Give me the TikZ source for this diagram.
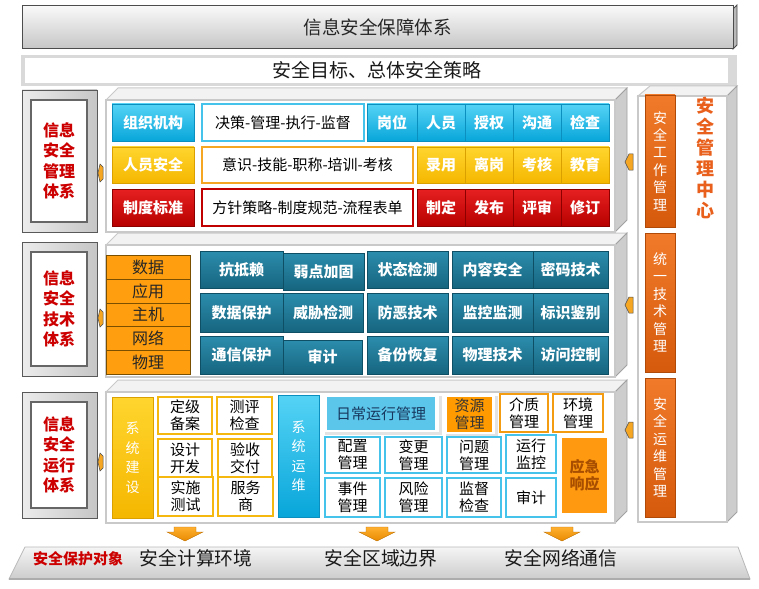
\documentclass[tikz,border=0pt]{standalone}
\usepackage{fontspec}
\setmainfont{Noto Sans CJK SC}
\definecolor{cyT}{HTML}{55D3F5}\definecolor{cyB}{HTML}{08A6DA}\definecolor{cyD}{HTML}{0A8FBF}
\definecolor{yeT}{HTML}{FFD52E}\definecolor{yeB}{HTML}{F5B700}\definecolor{yeD}{HTML}{D9A000}
\definecolor{reT}{HTML}{E62020}\definecolor{reB}{HTML}{B80000}\definecolor{reD}{HTML}{8C0000}
\definecolor{teT}{HTML}{2C8DAD}\definecolor{teB}{HTML}{16657F}\definecolor{teD}{HTML}{0F4F66}
\definecolor{orC}{HTML}{FF9F0F}\definecolor{orD}{HTML}{7A5000}
\definecolor{obT}{HTML}{F07A2A}\definecolor{obB}{HTML}{D65A0C}\definecolor{obD}{HTML}{B04A08}
\definecolor{bCy}{HTML}{45C3EA}\definecolor{bOr}{HTML}{F5A623}\definecolor{bRe}{HTML}{C00000}
\definecolor{bGo}{HTML}{F5B80F}\definecolor{bOr2}{HTML}{F39C12}
\definecolor{dayB}{HTML}{5CC6EA}\definecolor{navy}{HTML}{17375E}
\definecolor{resO}{HTML}{FF9A00}\definecolor{emO}{HTML}{FF9A10}\definecolor{emT}{HTML}{A84E00}
\definecolor{pnB}{HTML}{C9C9C9}\definecolor{pnTop}{HTML}{F2F2F2}\definecolor{pnR}{HTML}{CDCDCD}
\definecolor{ctrO}{HTML}{E8601C}\definecolor{arT}{HTML}{FFB030}\definecolor{arB}{HTML}{E88A00}
\definecolor{labR}{HTML}{CC0000}
\newcommand{\mybox}[7]{%
  \pgfmathsetmacro{\mbcx}{(#3+#5)/2}%
  \pgfmathsetmacro{\mbcy}{(#4+#6)/2}%
  \pgfmathsetmacro{\mbw}{#5-#3}%
  \pgfmathsetmacro{\mbh}{#6-#4}%
  \node[minimum width=\mbw pt, minimum height=\mbh pt, #1] (#2) at (\mbcx,\mbcy) {#7};}
\newcommand{\panelthree}[4]{% x1 y1 x2 y2 (front face)
  \filldraw[fill=pnTop, draw=pnB, line width=1pt] (#1,#2) -- (#1+12,#2-12) -- (#3+12,#2-12) -- (#3,#2) -- cycle;
  \filldraw[fill=pnR, draw=pnB!80!black, line width=0.8pt] (#3,#2) -- (#3+12,#2-12) -- (#3+12,#4-12) -- (#3,#4) -- cycle;
  \filldraw[fill=white, draw=pnB, line width=2.5pt] (#1,#2) rectangle (#3,#4);}
\newcommand{\lconn}[2]{\filldraw[fill=bOr, draw=black!70, line width=0.5pt] (#1-2,#2) -- (#1,#2-9) -- (#1+3,#2-6) -- (#1+3,#2+6) -- (#1,#2+9) -- cycle;}
\newcommand{\rconn}[2]{\filldraw[fill=bOr, draw=black!70, line width=0.5pt] (#1,#2) -- (#1+4,#2-8) -- (#1+8,#2-8) -- (#1+8,#2+8) -- (#1+4,#2+8) -- cycle;}
\newcommand{\darr}[1]{\path[top color=arT, bottom color=arB, draw=arB!80!black, line width=0.4pt] (#1-11,527) -- (#1+11,527) -- (#1+11,532) -- (#1+18,532) -- (#1,541) -- (#1-18,532) -- (#1-11,532) -- cycle;}
\begin{document}
\begin{tikzpicture}[x=1pt,y=-1pt,
  every node/.style={align=center, inner sep=0pt, outer sep=0pt},
  fb/.style={font=\fontsize{15}{17}\selectfont\bfseries},
  fr/.style={font=\fontsize{15}{17}\selectfont},
  cyanbtn/.style={top color=cyT, bottom color=cyB, draw=cyD, line width=0.6pt, text=white, fb},
  yelbtn/.style={top color=yeT, bottom color=yeB, draw=yeD, line width=0.6pt, text=white, fb},
  redbtn/.style={top color=reT, bottom color=reB, draw=reD, line width=0.6pt, text=white, fb},
  tealbtn/.style={top color=teT, bottom color=teB, draw=teD, line width=0.7pt, text=white, fb},
  wcy/.style={fill=white, draw=bCy, line width=1.8pt, text=black, fr},
  wor/.style={fill=white, draw=bOr, line width=1.8pt, text=black, fr},
  wre/.style={fill=white, draw=bRe, line width=1.8pt, text=black, fr},
  wgo/.style={fill=white, draw=bGo, line width=1.8pt, text=black, fr},
  wor2/.style={fill=white, draw=bOr2, line width=1.8pt, text=black, fr},
  orcell/.style={fill=orC, draw=orD, line width=0.8pt, text=black!85, font=\fontsize{16}{18}\selectfont},
  vtext/.style={font=\fontsize{14}{19.5}\selectfont},
  obar/.style={top color=obT, bottom color=obB, draw=obD, line width=0.6pt, text=white, font=\fontsize{14}{17.4}\selectfont},
  labout/.style={left color=gray!15, right color=gray!45, draw=black!65, line width=0.8pt},
  labin/.style={fill=white, draw=black!60, line width=1.2pt, text=labR, font=\fontsize{16}{20.5}\selectfont\bfseries},
  bottxt/.style={text=black!90, font=\fontsize{18.8}{20}\selectfont}
]
\useasboundingbox (0,0) rectangle (759,588);
\fill[white] (0,0) rectangle (759,588);

% ---------- top banner ----------
\filldraw[fill=gray!55, draw=black!70, line width=0.8pt] (733,9) -- (737,5) -- (737,45) -- (733,49) -- cycle;
\mybox{top color=gray!5, bottom color=gray!45, draw=black!70, line width=1pt, text=black!85, font=\fontsize{18.5}{20}\selectfont}{banner}{22}{6}{733}{49}{信息安全保障体系}

% ---------- goals bar ----------
\fill[gray!30] (21,55) rectangle (737,86);
\mybox{fill=white, text=black!90, font=\fontsize{19}{20}\selectfont}{goal}{25}{58}{728}{83}{安全目标、总体安全策略}

% ---------- panels ----------
\panelthree{106}{100}{615}{232}
\panelthree{106}{245}{615}{377}
\panelthree{106}{392}{615}{523}

% right column panel
\filldraw[fill=pnTop, draw=pnB, line width=1pt] (638,96) -- (650,86) -- (737,86) -- (727,96) -- cycle;
\filldraw[fill=pnR, draw=pnB!80!black, line width=0.8pt] (727,96) -- (737,86) -- (737,512) -- (727,522) -- cycle;
\filldraw[fill=white, draw=pnB, line width=2.5pt] (638,96) rectangle (727,522);

% ---------- left labels ----------
\mybox{labout}{lab1o}{22}{90}{97}{232}{}
\mybox{labin}{lab1}{31}{100}{87}{222}{信息\\安全\\管理\\体系}
\mybox{labout}{lab2o}{22}{242}{97}{376}{}
\mybox{labin}{lab2}{31}{252}{87}{366}{信息\\安全\\技术\\体系}
\mybox{labout}{lab3o}{22}{392}{97}{518}{}
\mybox{labin}{lab3}{31}{402}{87}{508}{信息\\安全\\运行\\体系}

% ---------- management ----------
\mybox{cyanbtn}{m11}{112}{104}{194}{141}{组织机构}
\mybox{wcy}{m12}{202}{104}{364}{141}{决策-管理-执行-监督}
\mybox{cyanbtn}{m13}{367}{104}{417}{141}{岗位}
\mybox{cyanbtn}{m14}{417}{104}{465}{141}{人员}
\mybox{cyanbtn}{m15}{465}{104}{513}{141}{授权}
\mybox{cyanbtn}{m16}{513}{104}{561}{141}{沟通}
\mybox{cyanbtn}{m17}{561}{104}{609}{141}{检查}

\mybox{yelbtn}{m21}{112}{147}{194}{183}{人员安全}
\mybox{wor}{m22}{202}{147}{413}{183}{意识-技能-职称-培训-考核}
\mybox{yelbtn}{m23}{417}{147}{465}{183}{录用}
\mybox{yelbtn}{m24}{465}{147}{513}{183}{离岗}
\mybox{yelbtn}{m25}{513}{147}{561}{183}{考核}
\mybox{yelbtn}{m26}{561}{147}{609}{183}{教育}

\mybox{redbtn}{m31}{112}{189}{194}{226}{制度标准}
\mybox{wre}{m32}{202}{189}{413}{226}{方针策略-制度规范-流程表单}
\mybox{redbtn}{m33}{417}{189}{465}{226}{制定}
\mybox{redbtn}{m34}{465}{189}{513}{226}{发布}
\mybox{redbtn}{m35}{513}{189}{561}{226}{评审}
\mybox{redbtn}{m36}{561}{189}{609}{226}{修订}

% ---------- technology ----------
\mybox{orcell}{t01}{106}{255}{190}{279}{数据}
\mybox{orcell}{t02}{106}{279}{190}{303}{应用}
\mybox{orcell}{t03}{106}{303}{190}{326}{主机}
\mybox{orcell}{t04}{106}{326}{190}{350}{网络}
\mybox{orcell}{t05}{106}{350}{190}{374}{物理}

\mybox{tealbtn}{t11}{200}{251}{283}{288}{抗抵赖}
\mybox{tealbtn}{t12}{283}{253}{364}{290}{弱点加固}
\mybox{tealbtn}{t13}{367}{251}{448}{288}{状态检测}
\mybox{tealbtn}{t14}{452}{251}{533}{288}{内容安全}
\mybox{tealbtn}{t15}{533}{251}{608}{288}{密码技术}

\mybox{tealbtn}{t21}{200}{293}{283}{332}{数据保护}
\mybox{tealbtn}{t22}{283}{293}{363}{332}{威胁检测}
\mybox{tealbtn}{t23}{367}{293}{448}{332}{防恶技术}
\mybox{tealbtn}{t24}{452}{293}{533}{332}{监控监测}
\mybox{tealbtn}{t25}{533}{293}{608}{332}{标识鉴别}

\mybox{tealbtn}{t31}{200}{336}{283}{374}{通信保护}
\mybox{tealbtn}{t32}{283}{340}{362}{374}{审计}
\mybox{tealbtn}{t33}{367}{336}{448}{374}{备份恢复}
\mybox{tealbtn}{t34}{452}{336}{533}{374}{物理技术}
\mybox{tealbtn}{t35}{533}{336}{608}{374}{访问控制}

% ---------- operations ----------
\mybox{top color=yeT, bottom color=yeB, draw=yeD, line width=0.6pt, text=white, vtext}{o01}{112}{397}{153}{518}{系\\统\\建\\设}
\mybox{wgo}{o02}{158}{397}{212}{434}{定级\\备案}
\mybox{wgo}{o03}{217}{397}{272}{434}{测评\\检查}
\mybox{wgo}{o04}{158}{439}{212}{477}{设计\\开发}
\mybox{wgo}{o05}{218}{439}{272}{477}{验收\\交付}
\mybox{wgo}{o06}{158}{477}{213}{516}{实施\\测试}
\mybox{wgo}{o07}{218}{477}{273}{516}{服务\\商}
\mybox{top color=cyT, bottom color=cyB, draw=cyD, line width=0.6pt, text=white, vtext}{o08}{278}{395}{319}{517}{系\\统\\运\\维}

\fill[gray!22] (325,396) rectangle (442,435);
\fill[white] (322,393) rectangle (439,432);
\fill[gray!22] (446,396) rectangle (498,437);
\fill[white] (443,393) rectangle (495,434);
\mybox{fill=dayB, text=navy, fr}{o09}{327}{397}{435}{430}{日常运行管理}
\mybox{fill=resO, text=black!80, fr}{o10}{447}{397}{492}{432}{资源\\管理}
\mybox{wor2}{o11}{500}{394}{548}{432}{介质\\管理}
\mybox{wor2}{o12}{553}{394}{603}{432}{环境\\管理}

\mybox{wcy}{o13}{325}{437}{380}{473}{配置\\管理}
\mybox{wcy}{o14}{385}{437}{442}{473}{变更\\管理}
\mybox{wcy}{o15}{447}{437}{501}{473}{问题\\管理}
\mybox{wcy}{o16}{506}{435}{556}{473}{运行\\监控}
\mybox{wcy}{o17}{325}{478}{380}{517}{事件\\管理}
\mybox{wcy}{o18}{385}{478}{442}{517}{风险\\管理}
\mybox{wcy}{o19}{447}{478}{501}{517}{监督\\检查}
\mybox{wcy}{o20}{506}{478}{556}{517}{审计}
\mybox{fill=emO, text=emT, fb}{o21}{562}{438}{607}{513}{应急\\响应}

% ---------- right column ----------
\mybox{obar}{r1}{645}{95}{675}{227}{安\\全\\工\\作\\管\\理}
\mybox{obar}{r2}{645}{233}{675}{372}{统\\一\\技\\术\\管\\理}
\mybox{obar}{r3}{645}{378}{675}{517}{安\\全\\运\\维\\管\\理}
\node[text=ctrO, font=\fontsize{18}{21}\selectfont\bfseries] (ctr) at (705,158) {安\\全\\管\\理\\中\\心};

% ---------- small connectors ----------
\lconn{100}{173}
\lconn{100}{318}
\lconn{100}{462}
\rconn{625}{162}
\rconn{625}{305}
\rconn{625}{430}

% ---------- bottom bar ----------
\path[top color=gray!8, bottom color=gray!40, draw=gray!55, line width=0.8pt] (25,547) -- (738,547) -- (750,579) -- (9,579) -- cycle;
\draw[gray!65, line width=2pt] (9,579) -- (750,579);
\node[text=labR, font=\fontsize{15}{17}\selectfont\bfseries] (obj) at (78,559) {安全保护对象};
\node[bottxt] (b1) at (196,558) {安全计算环境};
\node[bottxt] (b2) at (381,558) {安全区域边界};
\node[bottxt] (b3) at (561,558) {安全网络通信};

\darr{185}
\darr{377}
\darr{562}
\end{tikzpicture}
\end{document}
